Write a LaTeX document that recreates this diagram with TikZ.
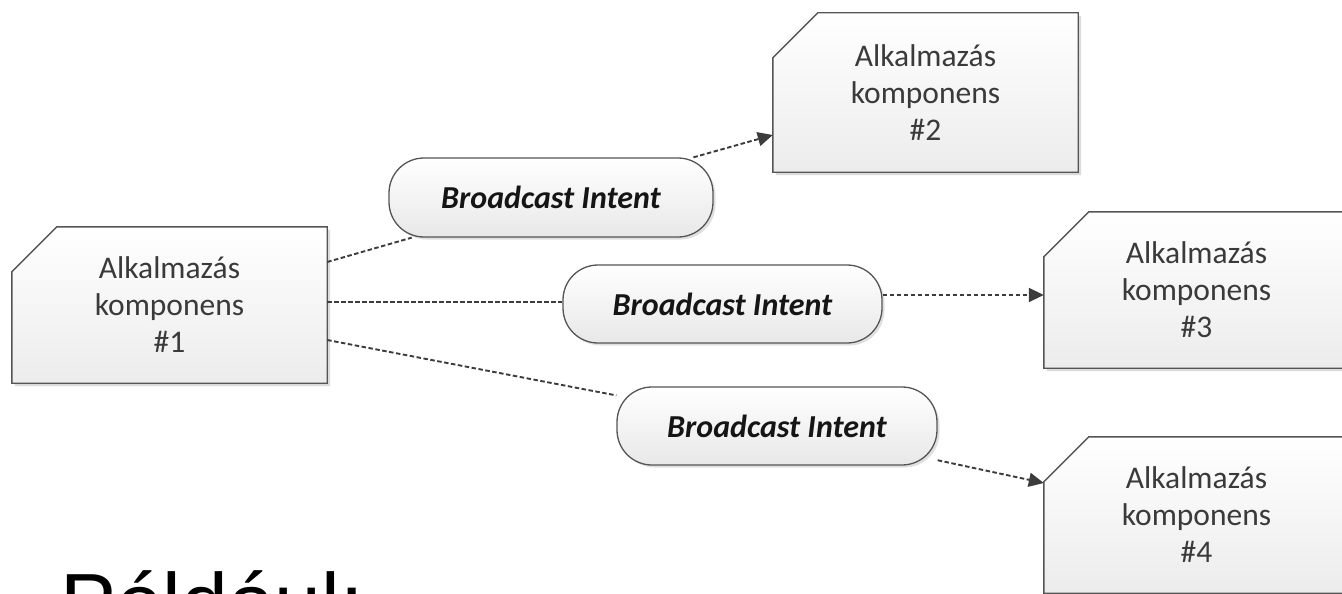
\documentclass[tikz,border=0pt]{standalone}
\usepackage{fontspec}
\setmainfont{Carlito}
\newfontfamily\headfont{Liberation Sans}
\usetikzlibrary{shapes.misc,arrows.meta,shadows,backgrounds}

\definecolor{edgecol}{HTML}{555555}
\definecolor{linkcol}{HTML}{3C3C3C}
\definecolor{comptext}{HTML}{3A3A3A}
\definecolor{pilltext}{HTML}{151515}
\definecolor{boxbot}{HTML}{ECECEC}
\definecolor{pillbot}{HTML}{E8E8E8}

\tikzset{
  comp/.style={draw=none, inner sep=0pt, minimum width=305pt, minimum height=156pt,
    align=center, text=comptext, font=\fontsize{31.5}{37}\selectfont},
  compshape/.style={draw=edgecol, line width=1.4pt, top color=white, bottom color=boxbot,
    drop shadow={shadow xshift=3pt, shadow yshift=-3pt, fill=black, opacity=.14}},
  pill/.style={rectangle, rounded corners=35pt, draw=edgecol, line width=1.3pt,
    top color=white, bottom color=pillbot, minimum width=320pt, minimum height=78pt,
    inner sep=0pt, text=pilltext, font=\fontsize{32}{38}\selectfont\bfseries\itshape,
    drop shadow={shadow xshift=2.5pt, shadow yshift=-2.5pt, fill=black, opacity=.12}},
  link/.style={draw=linkcol, line width=1.9pt, dash pattern=on 4.5pt off 2.5pt},
  arrowed/.style={link, -{Triangle[length=15pt,width=14pt]}}
}

\begin{document}
\begin{tikzpicture}[x=1pt,y=-1pt]
\useasboundingbox (0,0) rectangle (1342,594);
\clip (0,0) rectangle (1342,594);

% application components
\node[comp, minimum width=315pt] (b1) at (169.5,305) {Alkalmazás\\komponens\\\#1};
\node[comp, minimum height=159pt] (b2) at (925.5,92.5) {Alkalmazás\\komponens\\\#2};
\node[comp] (b3) at (1196.5,290) {Alkalmazás\\komponens\\\#3};
\node[comp] (b4) at (1196.5,515) {Alkalmazás\\komponens\\\#4};

% chamfered outlines behind the component texts
\begin{scope}[on background layer]
  \foreach \b in {b1,b2,b3,b4}{
    \path[compshape] (\b.south west) -- ([yshift=-45pt]\b.north west)
      -- ([xshift=45pt]\b.north west) -- (\b.north east) -- (\b.south east) -- cycle;
  }
\end{scope}

% broadcast intents
\node[pill, minimum width=324pt, minimum height=79pt] (p1) at (551,197.5) {Broadcast Intent};
\node[pill, minimum width=319pt] (p2) at (722.5,304) {Broadcast Intent};
\node[pill] (p3) at (777,426) {Broadcast Intent};

% connector end points on the component borders
\coordinate (o1) at ([yshift=43pt]b1.east);
\coordinate (o2) at ([yshift=3pt]b1.east);
\coordinate (o3) at ([yshift=-35pt]b1.east);
\coordinate (i2) at ([yshift=-42.5pt]b2.west);
\coordinate (i3) at ([yshift=-5pt]b3.west);
\coordinate (i4) at ([yshift=32pt]b4.west);

\draw[link] (o1) -- (p1);
\draw[arrowed] (p1) -- (i2);
\draw[link] (o2) -- (p2.west |- o2);
\draw[arrowed] (p2.east |- i3) -- (i3);
\draw[link] (o3) -- (p3);
\draw[arrowed] (p3) -- (i4);

% heading running off the lower edge
\node[anchor=base west, inner sep=0pt, font=\headfont\fontsize{84}{100}\selectfont]
  (title) at (60,632) {Például:};
\end{tikzpicture}
\end{document}
